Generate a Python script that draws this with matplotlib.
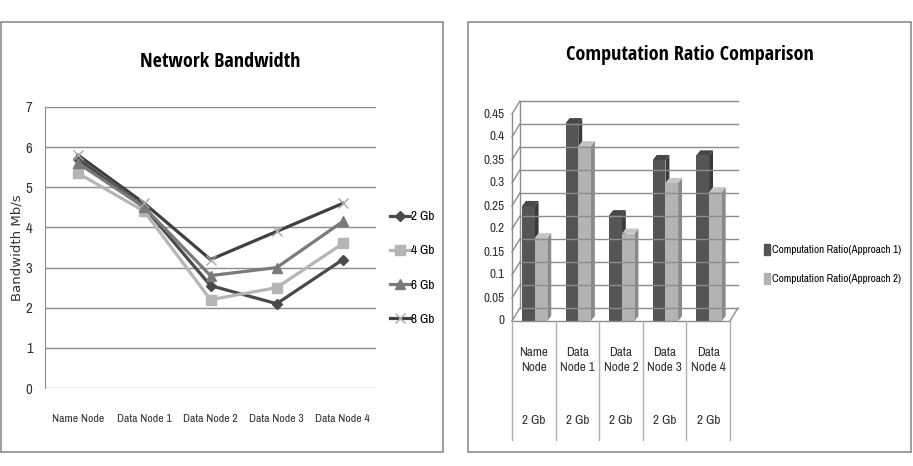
import matplotlib
matplotlib.use("Agg")
import matplotlib.pyplot as plt
from matplotlib.patches import Rectangle, Polygon
import numpy as np

plt.rcParams["font.family"] = ["Archivo Narrow", "Carlito", "DejaVu Sans"]
title_font = ["Open Sans Condensed", "Carlito", "DejaVu Sans"]

# ---- data: network bandwidth ----
nodes = ["Name Node", "Data Node 1", "Data Node 2", "Data Node 3", "Data Node 4"]
bw_2gb = [5.7, 4.5, 2.55, 2.1, 3.2]
bw_4gb = [5.35, 4.4, 2.2, 2.5, 3.6]
bw_6gb = [5.6, 4.5, 2.8, 3.0, 4.15]
bw_8gb = [5.8, 4.6, 3.2, 3.9, 4.6]
series_labels = ["2 Gb", "4 Gb", "6 Gb", "8 Gb"]

# ---- data: computation ratio ----
cat_top = ["Name\nNode", "Data\nNode 1", "Data\nNode 2", "Data\nNode 3", "Data\nNode 4"]
cat_bottom = ["2 Gb", "2 Gb", "2 Gb", "2 Gb", "2 Gb"]
ratio_a1 = [0.25, 0.43, 0.23, 0.35, 0.36]
ratio_a2 = [0.18, 0.38, 0.19, 0.30, 0.28]
ratio_labels = ["Computation Ratio(Approach 1)", "Computation Ratio(Approach 2)"]

W, H = 913, 466
fig = plt.figure(figsize=(W / 100, H / 100), dpi=100)
txt = "#333333"


def fx(px):
    return px / W


def fy(py):
    return 1 - py / H


# panel borders
for x0, x1 in [(1, 443), (468, 911)]:
    fig.patches.append(Rectangle((fx(x0), fy(452)), fx(x1 - x0), (452 - 22) / H,
                                 transform=fig.transFigure, fill=False,
                                 edgecolor="#8c8c8c", lw=1.2))

# ================= left: line chart =================
ax = fig.add_axes([fx(45), fy(388), fx(376 - 45), (388 - 107) / H])
x = np.arange(len(nodes))
styles = [
    (bw_2gb, "#4a4a4a", "D", "#4a4a4a", 5),
    (bw_4gb, "#b5b5b5", "s", "#b5b5b5", 6.5),
    (bw_6gb, "#7a7a7a", "^", "#7a7a7a", 6.5),
    (bw_8gb, "#404040", "x", "#a8a8a8", 7),
]
for (vals, col, mk, mcol, ms), lab in zip(styles, series_labels):
    ax.plot(x, vals, color=col, lw=2.3, marker=mk, markersize=ms,
            markerfacecolor=mcol, markeredgecolor=mcol, label=lab)

ax.set_xlim(-0.5, 4.5)
ax.set_ylim(0, 7)
ax.set_yticks(range(8))
ax.yaxis.grid(True, color="#8c8c8c", lw=1)
ax.set_axisbelow(True)
for s in ["top", "right", "bottom"]:
    ax.spines[s].set_visible(False)
ax.spines["left"].set_color("#8c8c8c")
ax.tick_params(length=0, labelsize=10.5, colors=txt)
ax.tick_params(axis="x", pad=19, labelsize=8.5)
ax.tick_params(axis="y", pad=9)
ax.set_xticks(x)
ax.set_xticklabels(nodes)
fig.text(fx(17), fy(248), "Bandwidth Mb/s", rotation=90, ha="center", va="center",
         fontsize=9.5, color=txt, family="DejaVu Sans")
fig.text(fx(220), fy(62), "Network Bandwidth", ha="center", va="center",
         fontsize=14.5, fontweight="bold", family=title_font)
ax.legend(loc="center left", bbox_to_anchor=(fx(390), fy(268)),
          bbox_transform=fig.transFigure, frameon=False, borderaxespad=0,
          borderpad=0, fontsize=9.5, labelspacing=1.75, handlelength=1.55,
          handletextpad=0.05)

# ================= right: pseudo 3D bar chart =================
bx = fig.add_axes([fx(512), fy(321), fx(730 - 512), 230 / H])
bx.set_xlim(-0.5, 4.5)
bx.set_ylim(0, 0.5)
bx.axis("off")

ddx, ddy = 0.18, 0.028      # wall depth in data units
bdx, bdy = 0.09, 0.011      # bar depth in data units
gcol = "#8c8c8c"
ticks = np.arange(0, 0.451, 0.05)
for t in ticks:
    bx.plot([-0.5 + ddx, 4.5 + ddx], [t + ddy, t + ddy], color=gcol, lw=1, clip_on=False)
    bx.plot([-0.5, -0.5 + ddx], [t, t + ddy], color=gcol, lw=1, clip_on=False)
    lab = "0" if t == 0 else ("%.2f" % t).rstrip("0")
    bx.text(-0.68, t, lab, ha="right", va="center", fontsize=9.5, color=txt)
bx.plot([-0.5, -0.5], [0, 0.45], color=gcol, lw=1, clip_on=False)
bx.plot([-0.5 + ddx, -0.5 + ddx], [ddy, 0.45 + ddy], color=gcol, lw=1, clip_on=False)
bx.plot([4.5, 4.5 + ddx], [0, ddy], color=gcol, lw=1, clip_on=False)
bx.plot([-0.5, 4.5], [0, 0], color=gcol, lw=1, clip_on=False)

bw = 0.29
bar_sets = [
    (ratio_a1, -bw / 2, "#555555", "#3a3a3a", "#464646"),
    (ratio_a2, bw / 2, "#b3b3b3", "#8a8a8a", "#c4c4c4"),
]
for vals, off, front, side, top in bar_sets:
    for i, v in enumerate(vals):
        x0 = i + off - bw / 2 + 0.02
        x1 = x0 + bw
        bx.add_patch(Polygon([(x1, 0), (x1 + bdx, bdy), (x1 + bdx, v + bdy), (x1, v)],
                             closed=True, facecolor=side, edgecolor="none"))
        bx.add_patch(Polygon([(x0, v), (x0 + bdx, v + bdy), (x1 + bdx, v + bdy), (x1, v)],
                             closed=True, facecolor=top, edgecolor="none"))
        bx.bar(i + off + 0.02, v, width=bw, color=front, edgecolor="none")

# category table under the bars
for k in range(6):
    bx.plot([k - 0.5, k - 0.5], [0, -0.259], color="#b0b0b0", lw=1, clip_on=False)
for i in range(5):
    bx.text(i, -0.085, cat_top[i], ha="center", va="center", fontsize=9.5,
            color=txt, linespacing=1.45)
    bx.text(i, -0.217, cat_bottom[i], ha="center", va="center", fontsize=9.5,
            color=txt)

handles = [Rectangle((0, 0), 1, 1, color="#555555"),
           Rectangle((0, 0), 1, 1, color="#b3b3b3")]
bx.legend(handles, ratio_labels, loc="center left", bbox_to_anchor=(fx(764), fy(264)),
          bbox_transform=fig.transFigure, frameon=False, borderaxespad=0, borderpad=0,
          fontsize=8, handlelength=0.5, handleheight=1.2,
          handletextpad=0.25, labelspacing=1.55)
fig.text(fx(690), fy(55), "Computation Ratio Comparison", ha="center", va="center",
         fontsize=14.5, fontweight="bold", family=title_font)

fig.savefig("out.png", dpi=100)
